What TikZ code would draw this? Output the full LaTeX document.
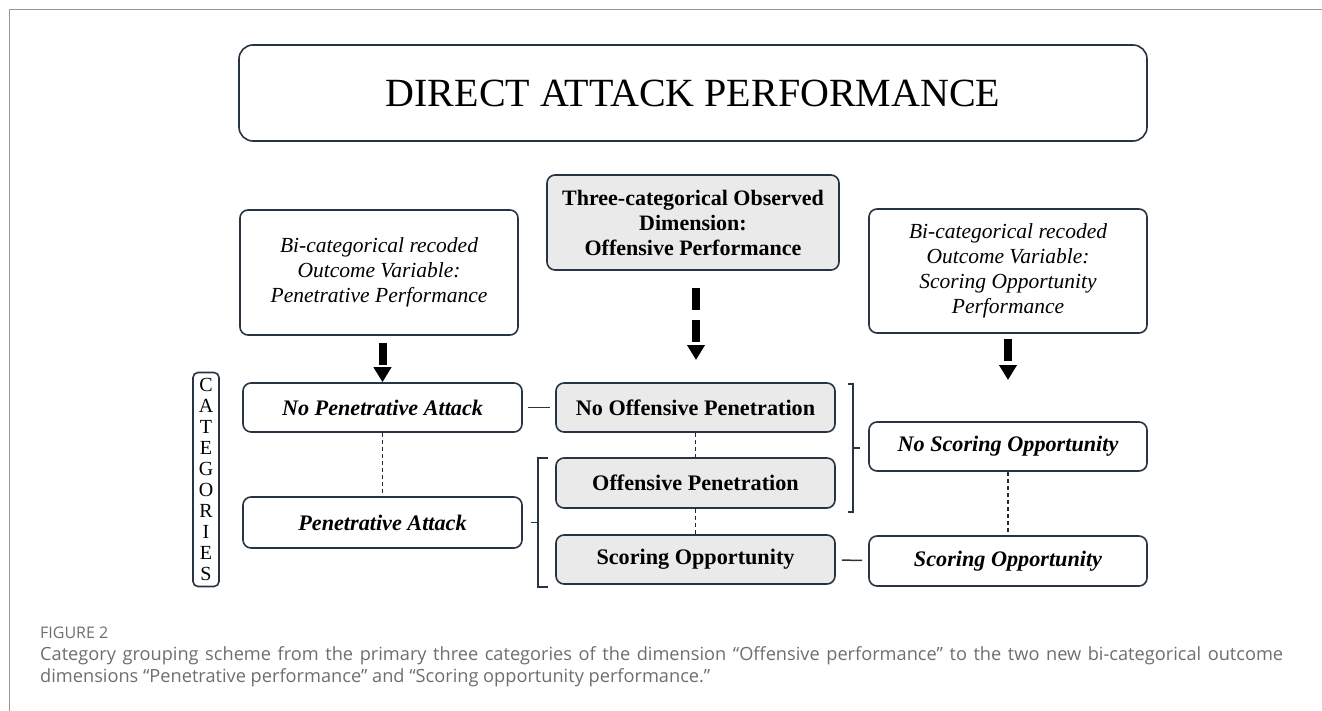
\documentclass[tikz,border=0pt]{standalone}
\usepackage{fontspec}
\setmainfont{Liberation Serif}
\newfontfamily\captionfont{Open Sans}
\usetikzlibrary{arrows.meta,positioning}
\definecolor{boxEdge}{RGB}{38,52,68}
\definecolor{dimFill}{RGB}{234,234,234}
\definecolor{frameGray}{RGB}{150,150,150}
\definecolor{captionGray}{RGB}{110,110,110}

\begin{document}
\begin{tikzpicture}[x=1pt,y=-1pt,
    catbox/.style={draw=boxEdge,line width=1.6pt,rounded corners=8pt,inner sep=0pt,align=center},
    dimbox/.style={catbox,fill=dimFill},
    headtext/.style={font=\fontsize{21.5}{25}\selectfont},
    celltext/.style={font=\fontsize{22.2}{24}\selectfont\bfseries},
    bigarrow/.style={line width=8pt,dash pattern=on 22pt off 10pt,-{Triangle[width=17pt,length=15pt]}},
    dotlink/.style={draw=boxEdge!80!black,line width=1.3pt,dash pattern=on 4pt off 3pt},
    bracket/.style={draw=boxEdge,line width=1.5pt}]
  \useasboundingbox (0,0) rectangle (1322,711);
  % frame of the figure
  \draw[frameGray,line width=1pt] (9,711) -- (9,10) -- (1322,10);

  % title
  \node[catbox,rounded corners=14pt,minimum width=908pt,minimum height=96pt,
        font=\fontsize{40}{42}\selectfont] (title) at (693,93) {DIRECT ATTACK PERFORMANCE};

  % outcome dimensions
  \node[catbox,minimum width=278pt,minimum height=125pt,headtext] (penOut) at (379,272.5)
        {\itshape Bi-categorical recoded\\\itshape Outcome Variable:\\\itshape Penetrative Performance};
  \node[dimbox,minimum width=292pt,minimum height=95pt,font=\fontsize{22}{25}\selectfont\bfseries] (offDim) at (693,222.5)
        {Three-categorical Observed\\Dimension:\\Offensive Performance};
  \node[catbox,minimum width=278pt,minimum height=124pt,headtext] (scorOut) at (1008,271)
        {\itshape Bi-categorical recoded\\\itshape Outcome Variable:\\\itshape Scoring Opportunity\\\itshape Performance};

  % categories
  \node[catbox,rounded corners=5pt,minimum width=26pt,minimum height=214pt,
        font=\fontsize{20}{21}\selectfont] (cats) at (206,479.5)
        {C\\A\\T\\E\\G\\O\\R\\I\\E\\S};
  \node[catbox,minimum width=279pt,minimum height=49pt,celltext] (noPenAtt) at (382.5,407.5) {\itshape No Penetrative Attack};
  \node[catbox,minimum width=279pt,minimum height=51pt,celltext] (penAtt) at (382.5,522.5) {\itshape Penetrative Attack};
  \node[dimbox,minimum width=279pt,minimum height=49pt,celltext] (noOffPen) at (695.5,407.5) {No Offensive Penetration};
  \node[dimbox,minimum width=279pt,minimum height=50pt,celltext] (offPen) at (695.5,483) {Offensive Penetration};
  \node[dimbox,minimum width=279pt,minimum height=49pt,celltext] (scorOpp) at (695.5,559.5) {Scoring Opportunity};
  \node[catbox,minimum width=278pt,minimum height=49pt,celltext] (noScor) at (1008,446.5) {\itshape No Scoring Opportunity};
  \node[catbox,minimum width=278pt,minimum height=50pt,celltext] (scor) at (1008,561) {\itshape Scoring Opportunity};

  % recoding arrows
  \coordinate (offTip) at (696,360);
  \coordinate (scorTip) at (1008,380);
  \draw[bigarrow] ([yshift=-7pt]noPenAtt.north |- penOut.south) -- (noPenAtt.north);
  \draw[bigarrow] ([yshift=-17pt]offTip |- offDim.south) -- (offTip);
  \draw[bigarrow] ([yshift=-5pt]scorOut.south) -- (scorTip);

  % links
  \draw[dotlink] (noPenAtt) -- (penAtt);
  \draw[dotlink] (noOffPen) -- (offPen);
  \draw[dotlink] (offPen) -- (scorOpp);
  \draw[dotlink] (noScor) -- (scor);
  \draw[bracket,shorten <=5pt,shorten >=5pt] (noPenAtt) -- (noOffPen);
  \draw[bracket,shorten <=6pt,shorten >=6pt] (scorOpp) -- (scor);

  % brackets
  \draw[bracket] (548,458) -- (538,458) -- (538,587) -- (548,587);
  \draw[bracket] (538,522.5) -- (531,522.5);
  \draw[bracket] (848,384) -- (853,384) -- (853,512) -- (848,512);
  \draw[bracket] (853,448) -- (860,448);

  % caption
  \node[anchor=base west,inner sep=0pt,text=captionGray,font=\captionfont\fontsize{16}{18}\selectfont] (figLabel) at (40,638) {FIGURE 2};
  \node[anchor=north west,inner sep=0pt,text=captionGray,text width=1243pt,align=justify,
        font=\captionfont\fontsize{18.2}{22.5}\selectfont] (figCaption) at (40,646)
        {Category grouping scheme from the primary three categories of the dimension “Offensive performance” to the two new bi-categorical outcome\linebreak dimensions “Penetrative performance” and “Scoring opportunity performance.”};
\end{tikzpicture}
\end{document}
